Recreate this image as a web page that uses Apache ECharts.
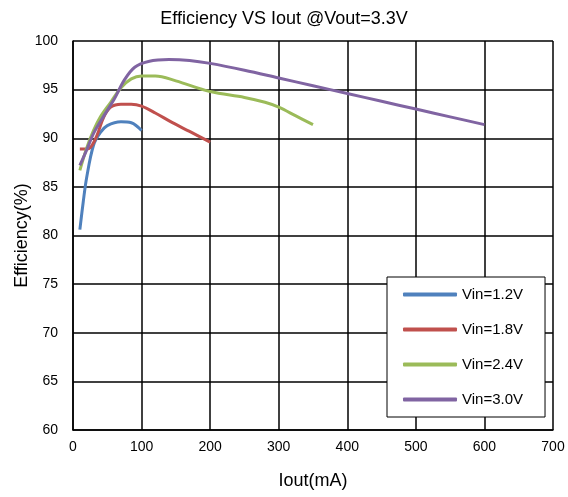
<!DOCTYPE html>
<html><head><meta charset="utf-8">
<script src="https://cdn.jsdelivr.net/npm/echarts@6/dist/echarts.min.js"></script>
<style>html,body{margin:0;padding:0;background:#fff}#c{width:568px;height:497px}</style>
</head><body><div id="c"></div>
<script>
const seriesNames = ['Vin=1.2V','Vin=1.8V','Vin=2.4V','Vin=3.0V'];
const colors = ['#4F81BD','#C0504D','#9BBB59','#8064A2'];
const vin12 = [[10,80.6],[15,83.5],[20,86.0],[30,89.3],[40,90.6],[50,91.3],[70,91.7],[85,91.6],[100,90.8]];
const vin18 = [[10,88.9],[20,88.9],[27,89.2],[35,90.3],[45,92.2],[55,93.2],[70,93.5],[85,93.5],[100,93.3],[120,92.6],[145,91.6],[170,90.7],[200,89.6]];
const vin24 = [[10,86.7],[20,89.0],[30,90.8],[40,92.2],[55,93.7],[70,95.2],[85,96.1],[100,96.4],[120,96.4],[150,95.9],[200,94.8],[250,94.2],[280,93.7],[300,93.2],[325,92.3],[350,91.4]];
const vin30 = [[10,87.2],[20,88.8],[30,90.5],[45,92.3],[60,94.0],[75,96.0],[90,97.3],[110,97.9],[140,98.1],[170,98.0],[200,97.7],[250,97.0],[300,96.2],[350,95.4],[400,94.6],[450,93.8],[500,93.0],[550,92.2],[600,91.4]];
const allData = [vin12, vin18, vin24, vin30];
const font = 'Liberation Sans, Arial, sans-serif';
const chart = echarts.init(document.getElementById('c'));
chart.setOption({
  animation:false,
  title:{text:'Efficiency VS Iout @Vout=3.3V',left:'center',top:5,textStyle:{fontFamily:font,fontSize:18,fontWeight:'normal',color:'#000'}},
  grid:{left:73,right:15,top:41,bottom:67,containLabel:false,outerBoundsMode:'none'},
  xAxis:{type:'value',min:0,max:700,interval:100,
    name:'Iout(mA)',nameLocation:'middle',nameGap:42,nameMoveOverlap:false,nameTextStyle:{fontFamily:font,fontSize:18,color:'#000'},
    axisLine:{show:true,lineStyle:{color:'#000',width:1.5}},axisTick:{show:false},
    axisLabel:{fontFamily:font,fontSize:14,color:'#000',margin:10},
    splitLine:{show:true,lineStyle:{color:'#000',width:1.5}}},
  yAxis:{type:'value',min:60,max:100,interval:5,
    name:'Efficiency(%)',nameLocation:'middle',nameGap:42,nameMoveOverlap:false,nameTextStyle:{fontFamily:font,fontSize:18,color:'#000'},
    axisLine:{show:true,lineStyle:{color:'#000',width:1.5}},axisTick:{show:false},
    axisLabel:{fontFamily:font,fontSize:14,color:'#000',margin:15},
    splitLine:{show:true,lineStyle:{color:'#000',width:1.5}}},
  legend:{orient:'vertical',left:387,top:277,data:seriesNames,
    backgroundColor:'#fff',borderColor:'#000',borderWidth:1,borderRadius:0,
    padding:[10,22,10,16],itemWidth:54,itemHeight:4,itemGap:20,icon:'roundRect',
    textStyle:{fontFamily:font,fontSize:15,color:'#000'}},
  series: allData.map((d,i)=>({name:seriesNames[i],type:'line',data:d,smooth:0.35,showSymbol:false,symbol:'none',
    lineStyle:{color:colors[i],width:3},itemStyle:{color:colors[i]}}))
});
</script></body></html>
